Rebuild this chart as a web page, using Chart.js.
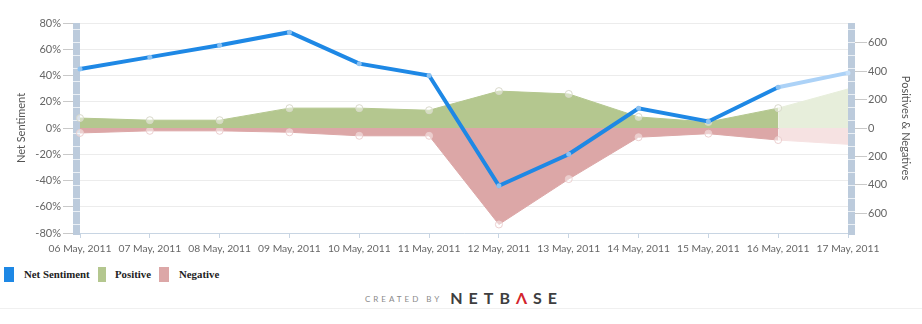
<!DOCTYPE html>
<html>
<head>
<meta charset="utf-8">
<script src="https://cdn.jsdelivr.net/npm/chart.js@4/dist/chart.umd.min.js"></script>
<style>
  body { margin: 0; background: #fff; width: 922px; height: 324px; overflow: hidden; position: relative; }
  #wrap { position: absolute; left: 0; top: 0; width: 922px; height: 260px; }
  #legend { position: absolute; left: 0; top: 266px; font: bold 10.8px "Liberation Serif", "DejaVu Serif", serif; color: #222; }
  #legend span.box { position: absolute; top: 1px; height: 15px; }
  #legend span.txt { position: absolute; top: 2px; white-space: nowrap; }
  #credit { position: absolute; left: 365px; top: 288px; white-space: nowrap; font-family: Lato, "Open Sans", sans-serif; }
  #credit .small { font-size: 8px; letter-spacing: 3px; color: #8a8a8a; vertical-align: 2px; }
  #credit .big { font-size: 16px; font-weight: 700; letter-spacing: 6px; color: #3e3e40; margin-left: 8px; }
  #credit .big b { color: #d3242c; font-weight: 700; }
  #rule { position: absolute; left: 0; top: 308px; width: 922px; height: 1px; background: #f0f0f0; }
</style>
</head>
<body>
<div id="wrap"><canvas id="chart"></canvas></div>
<div id="legend">
  <span class="box" style="left:4px;width:10px;background:#1e88e5"></span>
  <span class="txt" style="left:24px">Net Sentiment</span>
  <span class="box" style="left:98px;width:8px;background:#b4c78f"></span>
  <span class="txt" style="left:115px">Positive</span>
  <span class="box" style="left:159px;width:10px;background:#dca7a7"></span>
  <span class="txt" style="left:179px">Negative</span>
</div>
<div id="credit"><span class="small">CREATED BY</span><span class="big">NETB<b>Λ</b>SE</span></div>
<div id="rule"></div>
<script>
const days = ['06 May, 2011', '07 May, 2011', '08 May, 2011', '09 May, 2011', '10 May, 2011', '11 May, 2011',
  '12 May, 2011', '13 May, 2011', '14 May, 2011', '15 May, 2011', '16 May, 2011', '17 May, 2011'];
const netSentiment = [45, 54, 63, 73, 49, 40, -44, -20, 15, 5, 31, 42];
const positives = [70, 55, 55, 140, 140, 125, 260, 240, 78, 42, 140, 275];
const negatives = [-35, -20, -20, -30, -55, -55, -680, -360, -65, -40, -85, -115];
const leftTicks = [-80, -60, -40, -20, 0, 20, 40, 60, 80];
const rightTicks = [-600, -400, -200, 0, 200, 400, 600];

const lastIdx = days.length - 2; // segment into the last day is drawn faded
const tickFont = { family: 'Lato, "Open Sans", sans-serif', size: 11 };
const grey = '#666';

// light blue strips beside the two value axes
const axisStrips = {
  id: 'axisStrips',
  beforeDatasetsDraw(chart) {
    const { ctx, chartArea: a } = chart;
    const strips = [a.left - 7, a.right];
    ctx.save();
    strips.forEach(x => {
      ctx.fillStyle = '#bccbdc';
      ctx.fillRect(x, a.top, 7, a.bottom - a.top + 2);
      ctx.strokeStyle = 'rgba(255,255,255,0.7)';
      ctx.lineWidth = 1;
      for (let y = a.top + 6; y < a.bottom; y += 13) {
        ctx.beginPath();
        ctx.moveTo(x, y + 0.5);
        ctx.lineTo(x + 7, y + 0.5);
        ctx.stroke();
      }
    });
    ctx.restore();
  }
};

function fadeAfter(color, faded) {
  return ctx => ctx.p0DataIndex >= lastIdx ? faded : color;
}

new Chart(document.getElementById('chart'), {
  type: 'line',
  data: {
    labels: days,
    datasets: [{
      label: 'Net Sentiment',
      data: netSentiment,
      yAxisID: 'y',
      borderColor: '#1e88e5',
      borderWidth: 4,
      tension: 0,
      fill: false,
      pointRadius: 2.5,
      pointBorderWidth: 0,
      pointBackgroundColor: ctx => ctx.dataIndex > lastIdx ? '#c5e0fa' : '#8cc2f2',
      segment: { borderColor: fadeAfter('#1e88e5', '#acd2f7') }
    }, {
      label: 'Positive',
      data: positives,
      yAxisID: 'y1',
      borderColor: '#b4c78f',
      backgroundColor: '#b4c78f',
      borderWidth: 1,
      tension: 0,
      fill: 'origin',
      pointRadius: ctx => ctx.dataIndex > lastIdx ? 0 : 3.5,
      pointBorderWidth: 1,
      pointBorderColor: 'rgba(215,215,200,0.95)',
      pointBackgroundColor: 'rgba(255,255,255,0.45)',
      segment: {
        borderColor: fadeAfter('#b4c78f', '#e7eedb'),
        backgroundColor: fadeAfter('#b4c78f', '#e7eedb')
      }
    }, {
      label: 'Negative',
      data: negatives,
      yAxisID: 'y1',
      borderColor: '#dca7a7',
      backgroundColor: '#dca7a7',
      borderWidth: 1,
      tension: 0,
      fill: 'origin',
      pointRadius: ctx => ctx.dataIndex > lastIdx ? 0 : 3.5,
      pointBorderWidth: 1,
      pointBorderColor: 'rgba(235,205,205,0.95)',
      pointBackgroundColor: 'rgba(255,255,255,0.45)',
      segment: {
        borderColor: fadeAfter('#dca7a7', '#f6e2e2'),
        backgroundColor: fadeAfter('#dca7a7', '#f6e2e2')
      }
    }]
  },
  options: {
    responsive: true,
    maintainAspectRatio: false,
    animation: false,
    layout: { padding: { left: 0, right: 0, top: 23, bottom: 0 } },
    plugins: { legend: { display: false }, tooltip: { enabled: false } },
    scales: {
      x: {
        offset: false,
        afterFit: s => { s.height = 27; },
        border: { color: '#c8d5e3' },
        grid: { drawOnChartArea: false, drawTicks: true, tickLength: 5, tickColor: '#c8d5e3' },
        ticks: { autoSkip: false, maxRotation: 0, padding: 4, color: grey, font: { family: tickFont.family, size: 10.3 } }
      },
      y: {
        position: 'left',
        min: -80,
        max: 80,
        afterFit: s => { s.width = 80; },
        afterBuildTicks: s => { s.ticks = leftTicks.map(v => ({ value: v })); },
        border: { display: false },
        grid: {
          color: ctx => ctx.tick && ctx.tick.value === 0 ? '#b9a9a9' : '#ececec',
          tickColor: '#c9c9c9',
          tickLength: 17
        },
        ticks: { padding: 2, color: grey, font: tickFont, callback: v => v + '%' },
        title: {
          display: true, text: 'Net Sentiment', color: '#555',
          font: { family: tickFont.family, size: 11 }, padding: { top: 15, bottom: 0 }
        }
      },
      y1: {
        position: 'right',
        min: -740,
        max: 740,
        afterFit: s => { s.width = 74; },
        afterBuildTicks: s => { s.ticks = rightTicks.map(v => ({ value: v })); },
        border: { display: false },
        grid: { drawOnChartArea: false, tickColor: '#c9c9c9', tickLength: 19 },
        ticks: { padding: 1, color: grey, font: tickFont, callback: v => Math.abs(v) },
        title: {
          display: true, text: 'Positives & Negatives', color: '#555',
          font: { family: tickFont.family, size: 11 }, padding: { top: 10, bottom: 0 }
        }
      }
    }
  },
  plugins: [axisStrips]
});
</script>
</body>
</html>
